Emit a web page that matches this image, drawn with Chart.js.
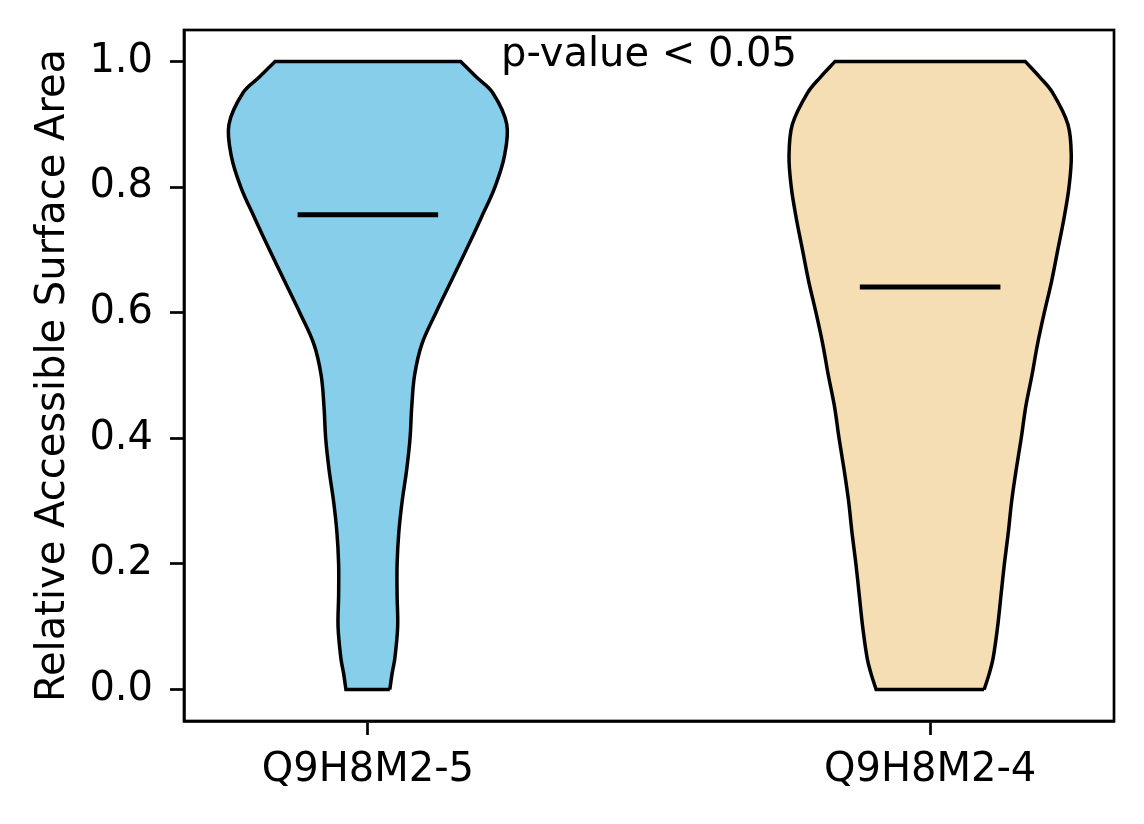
<!DOCTYPE html>
<html>
<head>
<meta charset="utf-8">
<script src="https://cdn.jsdelivr.net/npm/chart.js@4.4.1/dist/chart.umd.min.js"></script>
<style>
  body { margin: 0; background: #fff; }
  canvas { display: block; }
</style>
</head>
<body>
<canvas id="violinChrt" width="1144" height="824"></canvas>
<script>
(function(){

// ---- categories and where they sit on the x axis
const categories = ["Q9H8M2-5", "Q9H8M2-4"];
const positions = [1, 2];
const fillColors = ["#87CEEB", "#F5DEB3"];

const rsaGrid = [0, 0.025, 0.05, 0.10, 0.15, 0.20, 0.25, 0.30, 0.35, 0.40, 0.45, 0.50,
                 0.55, 0.60, 0.65, 0.70, 0.75, 0.80, 0.85, 0.90, 0.95, 0.975, 1.0];

// ---- half widths of each violin (x units) at those y values
const halfQ9H8M2_5 = [0.039, 0.043, 0.048, 0.053, 0.052, 0.052, 0.055, 0.061, 0.069, 0.075, 0.078, 0.083,
                      0.096, 0.121, 0.148, 0.175, 0.201, 0.226, 0.243, 0.247, 0.222, 0.193, 0.165];
const halfQ9H8M2_4 = [0.096, 0.105, 0.112, 0.120, 0.126, 0.132, 0.139, 0.145, 0.153, 0.162, 0.170, 0.181,
                      0.191, 0.203, 0.216, 0.227, 0.238, 0.247, 0.251, 0.245, 0.218, 0.195, 0.169];

// ---- medians
const medians = [0.756, 0.641];
const medianHalf = 0.125;

// ---- axis ticks
const yTicks = [0, 0.2, 0.4, 0.6, 0.8, 1.0];
const yTitle = "Relative Accessible Surface Area";

// ---- annotation
const pvalText = "p-value < 0.05";
const pvalPos = { x: 1.5, y: 0.992 };

const FONT = "'DejaVu Sans', 'Liberation Sans', sans-serif";
Chart.defaults.color = "#000";
Chart.defaults.font.family = FONT;
Chart.defaults.font.size = 40;

//---- outline: up the right side, across the top, down the left side, back along the bottom
//---- corner points are doubled so the spline keeps them sharp
function outline(center, half){
    let right = rsaGrid.map((y, i) => ({ x: center + half[i], y: y }));
    let left = rsaGrid.map((y, i) => ({ x: center - half[i], y: y })).reverse();
    let top = right[right.length - 1];
    let bot = left[left.length - 1];
    return right.concat([top], [left[0]], left, [bot], [right[0]]);
}

const halves = [halfQ9H8M2_5, halfQ9H8M2_4];

let datasets = [];
positions.forEach((c, i) => {
    datasets.push({
        label: categories[i],
        data: outline(c, halves[i]),
        showLine: true,
        fill: "shape",
        backgroundColor: fillColors[i],
        borderColor: "#000",
        borderWidth: 3.5,
        borderJoinStyle: "miter",
        pointRadius: 0,
        tension: 0.35,
        order: 1
    });
    datasets.push({
        label: categories[i] + " median",
        data: [{ x: c - medianHalf, y: medians[i] }, { x: c + medianHalf, y: medians[i] }],
        showLine: true,
        fill: false,
        borderColor: "#000",
        borderWidth: 5,
        pointRadius: 0,
        order: 0
    });
});

// frame round the plot + the p-value text
const framePlugin = {
    id: "frame",
    afterDraw(chart){
        const ctx = chart.ctx;
        const a = chart.chartArea;
        ctx.save();
        ctx.strokeStyle = "#000";
        ctx.lineWidth = 2.7;
        ctx.strokeRect(a.left, a.top, a.right - a.left, a.bottom - a.top);
        ctx.fillStyle = "#000";
        ctx.font = "40px " + FONT;
        ctx.textAlign = "center";
        ctx.textBaseline = "alphabetic";
        ctx.fillText(pvalText, chart.scales.x.getPixelForValue(pvalPos.x), chart.scales.y.getPixelForValue(pvalPos.y));
        ctx.restore();
    }
};

const ctx = document.querySelector("#violinChrt");

let myChart = new Chart(ctx, {
    type: "scatter",
    data: { datasets: datasets },
    options: {
        responsive: false,
        animation: false,
        devicePixelRatio: 1,
        layout: { padding: { top: 30, right: 30, left: 0, bottom: 0 } },
        plugins: {
            legend: { display: false },
            tooltip: { enabled: false }
        },
        scales: {
            x: {
                type: "linear",
                min: 0.673,
                max: 2.327,
                afterBuildTicks: (scale) => { scale.ticks = positions.map(v => ({ value: v })); },
                afterFit: (scale) => { scale.height = 103; scale.paddingLeft = 0; scale.paddingRight = 0; },
                ticks: {
                    padding: 12,
                    maxRotation: 0,
                    autoSkip: false,
                    callback: (v) => categories[positions.indexOf(v)]
                },
                grid: { drawOnChartArea: false, tickLength: 14, tickWidth: 2.7, tickColor: "#000" },
                border: { display: true, color: "#000", width: 2.7 }
            },
            y: {
                type: "linear",
                min: -0.05,
                max: 1.05,
                afterBuildTicks: (scale) => { scale.ticks = yTicks.map(v => ({ value: v })); },
                afterFit: (scale) => { scale.width = 184; scale.paddingTop = 0; scale.paddingBottom = 0; },
                ticks: {
                    padding: 17,
                    callback: (v) => v.toFixed(1)
                },
                title: {
                    display: true,
                    text: yTitle,
                    padding: { top: 30, bottom: 0 }
                },
                grid: { drawOnChartArea: false, tickLength: 14, tickWidth: 2.7, tickColor: "#000" },
                border: { display: true, color: "#000", width: 2.7 }
            }
        }
    },
    plugins: [framePlugin]
});

})();
</script>
</body>
</html>
